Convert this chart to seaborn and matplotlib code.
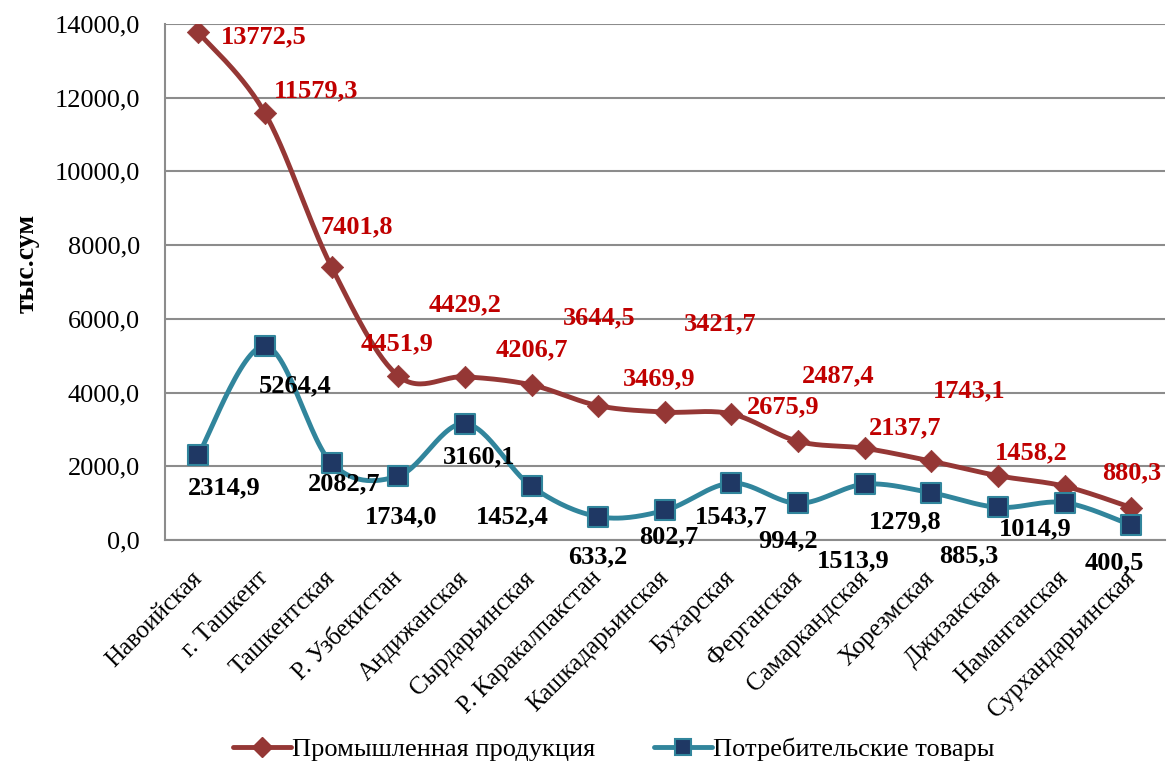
import numpy as np
import pandas as pd
import seaborn as sns
import matplotlib.pyplot as plt
from matplotlib.lines import Line2D
from matplotlib.ticker import FuncFormatter, FixedLocator

# ─── DATA ─────────────────────────────────────────────
regions = ['Навоийская', 'г. Ташкент', 'Ташкентская', 'Р. Узбекистан',
           'Андижанская', 'Сырдарьинская', 'Р. Каракалпакстан',
           'Кашкадарьинская', 'Бухарская', 'Ферганская', 'Самаркандская',
           'Хорезмская', 'Джизакская', 'Наманганская', 'Сурхандарьинская']
industrial = [13772.5, 11579.3, 7401.8, 4451.9, 4429.2, 4206.7, 3644.5,
              3469.9, 3421.7, 2675.9, 2487.4, 2137.7, 1743.1, 1458.2, 880.3]
consumer = [2314.9, 5264.4, 2082.7, 1734.0, 3160.1, 1452.4, 633.2,
            802.7, 1543.7, 994.2, 1513.9, 1279.8, 885.3, 1014.9, 400.5]
series_names = ['Промышленная продукция', 'Потребительские товары']

# label offsets in points (dx, dy) relative to each marker
ind_offsets = [(47, -3), (37, 16), (18, 29), (-1, 23), (0, 52), (0, 25), (1, 63),
               (-4, 24), (-8, 65), (-11, 25), (-19, 52), (-19, 24), (-21, 61),
               (-24, 24), (0, 25)]
con_offsets = [(19, -24), (22, -29), (9, -15), (2, -29), (10, -24), (-14, -22),
               (0, -29), (3, -19), (0, -24), (-7, -27), (-8, -55), (-19, -21),
               (-21, -35), (-21, -19), (-12, -27)]

RED_LINE = '#953735'
RED_TXT = '#C00000'
TEAL = '#31859C'
NAVY = '#1F3864'
GRID = '#8C8C8C'


def smooth(xs, ys, n=30):
    # Catmull-Rom spline through the points (like Excel's smoothed line)
    p = np.column_stack([xs, ys]).astype(float)
    p = np.vstack([p[0], p, p[-1]])
    out = []
    for i in range(1, len(p) - 2):
        p0, p1, p2, p3 = p[i - 1], p[i], p[i + 1], p[i + 2]
        t = np.linspace(0, 1, n, endpoint=False)[:, None]
        c1 = p1 + (p2 - p0) / 6
        c2 = p2 - (p3 - p1) / 6
        seg = ((1 - t) ** 3) * p1 + 3 * ((1 - t) ** 2) * t * c1 + 3 * (1 - t) * t ** 2 * c2 + t ** 3 * p2
        out.append(seg)
    out.append(p[-2][None, :])
    out = np.vstack(out)
    return out[:, 0], out[:, 1]


sns.set_style('white')
plt.rcParams['font.family'] = ['Liberation Serif', 'DejaVu Serif']
plt.rcParams['text.color'] = 'black'

fig = plt.figure(figsize=(11.67, 7.64), dpi=100)
ax = fig.add_axes([0.1414, 0.2932, 0.8566, 0.6754])

x = np.arange(len(regions))
df = pd.DataFrame({'x': x, 'ind': industrial, 'con': consumer})

sx, sy = smooth(x, industrial)
ax.plot(sx, sy, color=RED_LINE, lw=3.5, solid_capstyle='round', zorder=3)
sx, sy = smooth(x, consumer)
ax.plot(sx, sy, color=TEAL, lw=3.5, solid_capstyle='round', zorder=3)

sns.scatterplot(data=df, x='x', y='ind', marker='D', s=130, color=RED_LINE,
                edgecolor=RED_LINE, linewidth=0.5, ax=ax, zorder=4)
sns.scatterplot(data=df, x='x', y='con', marker='s', s=190, color=NAVY,
                edgecolor=TEAL, linewidth=1.5, ax=ax, zorder=4)


def fmt(v):
    return f'{v:.1f}'.replace('.', ',')


for i in range(len(regions)):
    ax.annotate(fmt(industrial[i]), (x[i], industrial[i]), xytext=ind_offsets[i],
                textcoords='offset points', ha='center', va='center',
                fontsize=19, fontweight='bold', color=RED_TXT, zorder=5)
    ax.annotate(fmt(consumer[i]), (x[i], consumer[i]), xytext=con_offsets[i],
                textcoords='offset points', ha='center', va='center',
                fontsize=19, fontweight='bold', color='black', zorder=5)

ax.set_xlim(-0.5, len(regions) - 0.5)
ax.set_ylim(0, 14000)
ax.set_yticks(np.arange(0, 14001, 2000))
ax.yaxis.set_major_formatter(FuncFormatter(lambda v, p: fmt(v)))
ax.yaxis.grid(True, color=GRID, lw=1.5)
ax.set_axisbelow(True)

ax.set_xticks(x)
ax.set_xticklabels(regions, rotation=45, ha='right', va='center', rotation_mode='anchor')
ax.xaxis.set_minor_locator(FixedLocator(np.arange(-0.5, len(regions), 1)))
ax.tick_params(axis='x', which='major', length=0, labelsize=18, pad=25, labelcolor='black')
ax.tick_params(axis='x', which='minor', length=8, width=1.5, color=GRID, direction='out')
ax.tick_params(axis='y', which='major', length=6, width=1.5, color=GRID,
               direction='out', labelsize=19, pad=12, labelcolor='black')

for side in ['top', 'right']:
    ax.spines[side].set_visible(False)
for side in ['left', 'bottom']:
    ax.spines[side].set_color(GRID)
    ax.spines[side].set_linewidth(1.5)

ax.set_xlabel('')
ax.set_ylabel('тыс.сум', fontsize=20, fontweight='bold', color='black')
ax.yaxis.set_label_coords(-0.125, 0.537)

handles = [Line2D([], [], color=RED_LINE, lw=3.5, marker='D', markersize=10,
                  markerfacecolor=RED_LINE, markeredgecolor=RED_LINE),
           Line2D([], [], color=TEAL, lw=3.5, marker='s', markersize=12,
                  markerfacecolor=NAVY, markeredgecolor=TEAL, markeredgewidth=1.5)]
fig.legend(handles, series_names, loc='lower center', bbox_to_anchor=(0.526, -0.027),
           ncol=2, frameon=False, fontsize=19, handlelength=2.2, handletextpad=0.05,
           columnspacing=2.2)

fig.savefig('out.png', dpi=100)
